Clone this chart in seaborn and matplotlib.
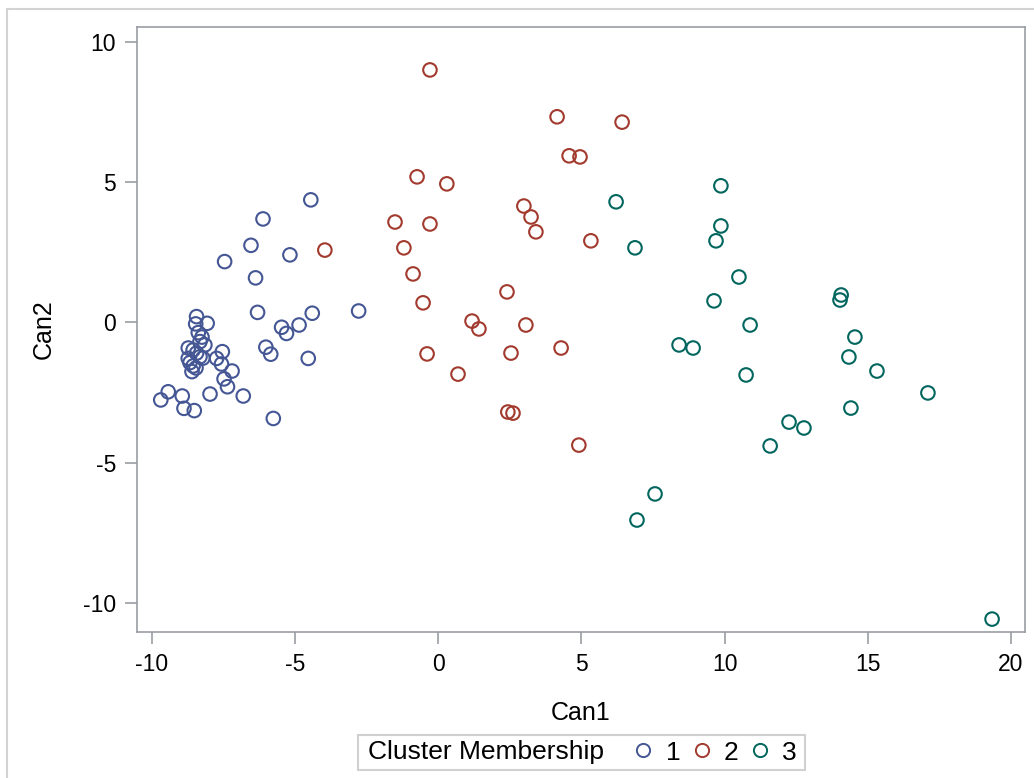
import numpy as np
import pandas as pd
import matplotlib
matplotlib.use('Agg')
import matplotlib.pyplot as plt
from matplotlib.lines import Line2D
from matplotlib.patches import Rectangle
import seaborn as sns

sns.set_style('white')
plt.rcParams['font.family'] = ['Liberation Sans', 'DejaVu Sans']
plt.rcParams['axes.unicode_minus'] = False
plt.rcParams['text.color'] = 'black'
plt.rcParams['axes.labelcolor'] = 'black'

# cluster 1
can1_c1 = [-4.45, -6.12, -6.54, -7.46, -5.18, -6.38, -6.31, -4.40, -2.78, -5.47,
           -5.30, -4.86, -4.54, -6.02, -5.85, -5.76, -6.81, -7.20, -7.54, -7.74,
           -7.57, -7.48, -7.36, -7.97, -9.69, -9.43, -8.94, -8.88, -8.52,
           -8.44, -8.47, -8.07, -8.38, -8.25, -8.32, -8.15, -8.73, -8.56, -8.44,
           -8.32, -8.73, -8.22, -8.67, -8.56, -8.60, -8.46]
can2_c1 = [4.37, 3.69, 2.75, 2.17, 2.41, 1.59, 0.36, 0.33, 0.41, -0.17,
           -0.39, -0.09, -1.28, -0.88, -1.13, -3.42, -2.62, -1.73, -1.04, -1.28,
           -1.48, -2.01, -2.29, -2.55, -2.76, -2.47, -2.62, -3.06, -3.14,
           0.21, -0.05, -0.03, -0.36, -0.52, -0.68, -0.80, -0.91, -0.98, -1.09,
           -1.22, -1.28, -1.27, -1.43, -1.55, -1.75, -1.62]

# cluster 2
can1_c2 = [-0.29, 4.15, 6.42, 4.57, 4.95, -0.74, 0.30, 2.99, 3.24, 3.41,
           -1.51, -0.29, -1.20, -3.96, 5.33, -0.88, -0.53, 2.40, 1.18, 1.42,
           3.06, 4.29, -0.39, 2.54, 0.69, 2.43, 2.61, 4.91]
can2_c2 = [9.00, 7.33, 7.14, 5.94, 5.90, 5.19, 4.94, 4.15, 3.76, 3.23,
           3.58, 3.51, 2.66, 2.58, 2.91, 1.73, 0.70, 1.09, 0.05, -0.23,
           -0.09, -0.91, -1.12, -1.09, -1.84, -3.19, -3.23, -4.37]

# cluster 3
can1_c3 = [9.87, 6.21, 9.87, 9.70, 6.87, 10.50, 9.63, 14.07, 14.03, 10.89,
           14.55, 8.41, 8.90, 14.34, 10.75, 15.32, 17.10, 14.41, 12.25, 12.77,
           11.59, 7.57, 6.94, 19.34]
can2_c3 = [4.87, 4.30, 3.44, 2.91, 2.66, 1.62, 0.77, 0.98, 0.80, -0.09,
           -0.52, -0.80, -0.91, -1.23, -1.87, -1.73, -2.51, -3.05, -3.55, -3.76,
           -4.40, -6.11, -7.04, -10.57]

clusters = ['1', '2', '3']
colors = ['#445694', '#A23A2E', '#01665E']

df = pd.concat([
    pd.DataFrame({'Can1': can1_c1, 'Can2': can2_c1, 'Cluster': '1'}),
    pd.DataFrame({'Can1': can1_c2, 'Can2': can2_c2, 'Cluster': '2'}),
    pd.DataFrame({'Can1': can1_c3, 'Can2': can2_c3, 'Cluster': '3'}),
])

W, H = 1034, 778
fig = plt.figure(figsize=(W / 100, H / 100), dpi=100)
ax = fig.add_axes([137 / W, 1 - 632 / H, (1025 - 137) / W, (632 - 27) / H])

sns.scatterplot(data=df, x='Can1', y='Can2', hue='Cluster', hue_order=clusters,
                palette=colors, s=95, linewidth=1.5, legend=False, ax=ax)
coll = ax.collections[0]
fc = coll.get_facecolors()
coll.set_edgecolors(fc)
coll.set_facecolors('none')

ax.set_xlim(-10.52, 20.49)
ax.set_ylim(-11.03, 10.53)
ax.set_xticks([-10, -5, 0, 5, 10, 15, 20])
ax.set_yticks([-10, -5, 0, 5, 10])
for s in ax.spines.values():
    s.set_color('#9a9ea3')
    s.set_linewidth(1.2)
ax.tick_params(axis='both', direction='out', length=8.5, width=1.2, color='#9a9ea3',
               labelsize=16.5, labelcolor='black', pad=6.5, bottom=True, left=True)
ax.set_xlabel('Can1', fontsize=18, labelpad=18)
ax.set_ylabel('Can2', fontsize=18, labelpad=20)

# legend: inline title, entries, one frame round both
ly = 1 - 752.5 / H
fig.text(368 / W, ly, 'Cluster Membership', fontsize=19, va='center', ha='left')
handles = [Line2D([], [], linestyle='none', marker='o', markersize=9.5,
                  markerfacecolor='none', markeredgecolor=col, markeredgewidth=1.4)
           for col in colors]
fig.legend(handles, clusters, loc='center right', bbox_to_anchor=(797 / W, ly),
           ncol=3, fontsize=19, frameon=False, handlelength=0.7, handletextpad=0.5,
           columnspacing=0.45, borderpad=0, borderaxespad=0)
fig.add_artist(Rectangle((358 / W, 1 - 770 / H), (805 - 358) / W, 35 / H,
                         transform=fig.transFigure, fill=False, edgecolor='#d0d0d0', lw=1.5))

# outer frame
fx, fy = 7 / W, 1 - 9 / H
fig.add_artist(Line2D([fx, fx], [0, fy], transform=fig.transFigure, color='#d3d3d3', lw=1.5))
fig.add_artist(Line2D([fx, 1], [fy, fy], transform=fig.transFigure, color='#d3d3d3', lw=1.5))

fig.savefig('out.png', dpi=100)
